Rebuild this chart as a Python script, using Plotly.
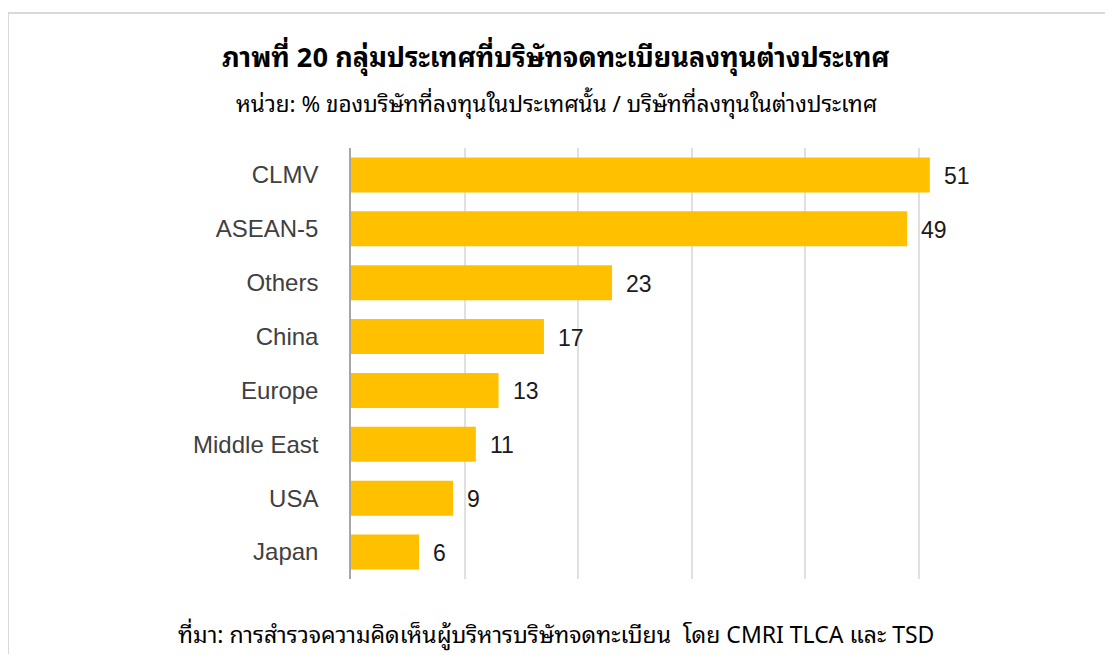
import plotly.graph_objects as go

categories = ["CLMV", "ASEAN-5", "Others", "China", "Europe", "Middle East", "USA", "Japan"]
values = [51, 49, 23, 17, 13, 11, 9, 6]

title_text = "ภาพที่ 20 กลุ่มประเทศที่บริษัทจดทะเบียนลงทุนต่างประเทศ"
subtitle_text = "หน่วย: % ของบริษัทที่ลงทุนในประเทศนั้น / บริษัทที่ลงทุนในต่างประเทศ"
source_text = "ที่มา: การสำรวจความคิดเห็นผู้บริหารบริษัทจดทะเบียน  โดย CMRI TLCA และ TSD"

OFF = 8  # default page body margin
W, H = 1113 - 2 * OFF, 662 - 2 * OFF


def px(x):
    return (x - OFF) / W


def py(y):
    return 1 - (y - OFF) / H


x0_px, x1_px = 351, 1000
y_top_px, y_bot_px = 148, 579
px_per_unit = 113.5 / 10
xmax = (x1_px - x0_px) / px_per_unit

thai_font = ("'Noto Sans Thai Looped', 'Noto Serif Thai', Tahoma, Loma, Garuda, "
             "Norasi, 'TH Sarabun New', 'Noto Sans Thai', 'Liberation Sans', sans-serif")

fig = go.Figure()
fig.add_trace(go.Bar(
    x=values, y=categories, orientation="h",
    marker=dict(color="#FFC000", line=dict(width=0)),
    width=0.65,
    hoverinfo="x+y",
))

for c, v in zip(categories, values):
    fig.add_annotation(x=v, y=c, text=str(v), showarrow=False,
                       xanchor="left", xshift=12, yshift=-1,
                       font=dict(size=23, color="#1a1a1a", family="Liberation Sans, Arial"))

fig.update_layout(
    width=W, height=H,
    margin=dict(l=0, r=0, t=0, b=0),
    paper_bgcolor="white", plot_bgcolor="white",
    showlegend=False,
    bargap=0.35,
    xaxis=dict(
        domain=[px(x0_px), px(x1_px)],
        range=[0, xmax],
        dtick=10, tick0=0,
        showgrid=True, gridcolor="#e0e0e0", gridwidth=1.5,
        showticklabels=False, zeroline=False, showline=False,
        fixedrange=True,
    ),
    yaxis=dict(
        domain=[py(y_bot_px), py(y_top_px)],
        categoryorder="array", categoryarray=categories[::-1],
        showline=True, linecolor="#a6a6a6", linewidth=1.5,
        ticks="", ticklabelstandoff=26,
        tickfont=dict(size=24, color="#404040", family="Liberation Sans, Arial"),
        showgrid=False, fixedrange=True,
    ),
)

fig.add_annotation(xref="paper", yref="paper", x=px(556), y=py(55),
                   text="<b>" + title_text + "</b>", showarrow=False,
                   xanchor="center", yanchor="middle",
                   font=dict(size=27, color="black", family=thai_font))
fig.add_annotation(xref="paper", yref="paper", x=px(556), y=py(102),
                   text=subtitle_text, showarrow=False,
                   xanchor="center", yanchor="middle",
                   font=dict(size=22.5, color="black", family=thai_font))
fig.add_annotation(xref="paper", yref="paper", x=px(556), y=py(632),
                   text=source_text, showarrow=False,
                   xanchor="center", yanchor="middle",
                   font=dict(size=23, color="black", family=thai_font))

# outer frame (top and left edges visible)
fig.add_shape(type="line", xref="paper", yref="paper",
              x0=px(7), x1=1.0, y0=py(13), y1=py(13),
              line=dict(color="#d9d9d9", width=2))
fig.add_shape(type="line", xref="paper", yref="paper",
              x0=px(8), x1=px(8), y0=0, y1=py(13),
              line=dict(color="#d9d9d9", width=2))

fig.write_html("out.html")
